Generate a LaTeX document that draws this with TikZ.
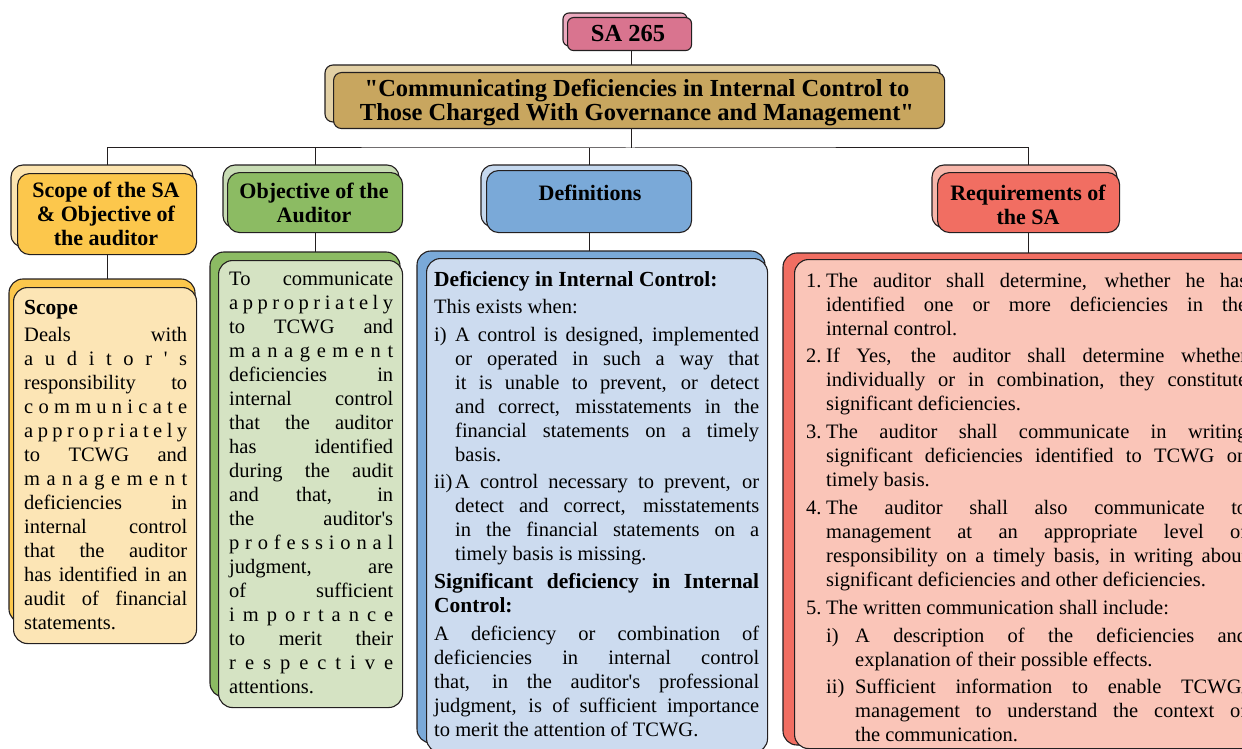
\documentclass[tikz,border=0pt]{standalone}
\usepackage{fontspec}
\setmainfont{Liberation Serif}[Ligatures=TeXOff]

\pgfdeclarelayer{links}
\pgfdeclarelayer{under}
\pgfsetlayers{links,under,main}

% palette
\definecolor{ink}{HTML}{231F20}
\definecolor{saF}{HTML}{D9748F}\definecolor{saB}{HTML}{EBA9BE}
\definecolor{tiF}{HTML}{C8A65F}\definecolor{tiB}{HTML}{E2D0A5}
\definecolor{yeF}{HTML}{FCC74C}\definecolor{yeL}{HTML}{FCE5B5}\definecolor{yeB}{HTML}{FCE4AF}
\definecolor{grF}{HTML}{8CBB63}\definecolor{grL}{HTML}{D5E3C3}\definecolor{grB}{HTML}{C8DCB4}
\definecolor{blF}{HTML}{7AA9D8}\definecolor{blL}{HTML}{CCDBEF}\definecolor{blB}{HTML}{C5D8EE}
\definecolor{reF}{HTML}{F16E62}\definecolor{reL}{HTML}{FAC5B8}\definecolor{reB}{HTML}{F7B6AA}

% line builders for the text panels
\newcommand\fl{\rule{0pt}{17pt}}
\newcommand\gap[1]{\vskip#1pt}
\newcommand\sfree{\spaceskip=0pt\xspaceskip=0pt\relax}
\newcommand\jline[1]{\hbox to\hsize{\sfree#1}}
\newcommand\lline[1]{\hbox{\sfree#1}}
\newcommand\ijline[3]{\hbox to\hsize{\sfree\hbox to#1{#2\hfil}#3}}
\newcommand\illine[3]{\hbox{\sfree\hbox to#1{#2\hfil}#3}}
\newcommand\cjline[2]{\hbox to\hsize{\sfree\hskip#1\relax#2}}
\newcommand\clline[2]{\hbox{\sfree\hskip#1\relax#2}}
\newcommand\hd[1]{{\bfseries\fontsize{21.5}{24}\selectfont#1}}
\ExplSyntaxOn
\NewDocumentCommand\spline{m}{\hbox to\hsize{\tl_map_inline:nn{#1}{##1\hfil}\unskip}}
\ExplSyntaxOff

\begin{document}
\begin{tikzpicture}[x=1pt,y=-1pt,
  card/.style={draw=ink, line width=1.1pt, inner sep=0pt, anchor=north west},
  backcard/.style={draw=ink, line width=1.1pt},
  conn/.style={draw=ink, line width=1pt},
  headtext/.style={align=center, inner sep=0pt, font=\bfseries\fontsize{22}{24}\selectfont},
  bodytext/.style={anchor=north west, inner sep=0pt, text width=#1, font=\fontsize{20.5}{24}\selectfont}]
\useasboundingbox (0,0) rectangle (1242,749);

\begin{scope}
\clip (0,0) rectangle (1242,749);
% front cards
\node[card, fill=saF, rounded corners=6pt, minimum width=124pt, minimum height=33pt] (sa) at (567,17) {};
\node[card, fill=tiF, rounded corners=8pt, minimum width=611pt, minimum height=56pt] (title) at (333,72) {};
\node[card, fill=yeF, rounded corners=12pt, minimum width=179pt, minimum height=81pt] (scopeh) at (17,173) {};
\node[card, fill=grF, rounded corners=12pt, minimum width=175pt, minimum height=60pt] (objh) at (227,172) {};
\node[card, fill=blF, rounded corners=12pt, minimum width=205pt, minimum height=62pt] (defh) at (486,170) {};
\node[card, fill=reF, rounded corners=12pt, minimum width=182pt, minimum height=60pt] (reqh) at (937,172) {};
\node[card, fill=yeL, rounded corners=14pt, minimum width=183pt, minimum height=356pt] (scopeb) at (13,287) {};
\node[card, fill=grL, rounded corners=14pt, minimum width=184pt, minimum height=447pt] (objb) at (218,260) {};
\node[card, fill=blL, rounded corners=14pt, minimum width=341pt, minimum height=494pt] (defb) at (426,258) {};
\node[card, fill=reL, rounded corners=14pt, minimum width=468pt, minimum height=489pt] (reqb) at (794,259) {};

% headings
\node[headtext, font=\bfseries\fontsize{24.5}{24}\selectfont] (saT) at (628,34) {SA 265};
\node[headtext, font=\bfseries\fontsize{24.5}{24}\selectfont] (titleT) at (637,103)
  {"Communicating Deficiencies in Internal Control to\\Those Charged With Governance and Management"};
\node[headtext] (scopehT) at (106,214) {Scope of the SA\\\& Objective of\\the auditor};
\node[headtext] (objhT) at (314,203) {Objective of the\\Auditor};
\node[headtext] (defhT) at (590,193) {Definitions};
\node[headtext] (reqhT) at (1028,205) {Requirements of\\the SA};

% panel texts
\node[bodytext=163pt] (scopeT) at (24,297) {%
\lline{\fl\hd{Scope}}\gap{3.7}
\jline{Deals with}
\spline{auditor's}
\jline{responsibility to}
\spline{communicate}
\spline{appropriately}
\jline{to TCWG and}
\spline{management}
\jline{deficiencies in}
\jline{internal control}
\jline{that the auditor}
\jline{has identified in an}
\jline{audit of financial}
\lline{statements.}};

\node[bodytext=164pt] (objT) at (229,268) {%
\jline{\fl To communicate}
\spline{appropriately}
\jline{to TCWG and}
\spline{management}
\jline{deficiencies in}
\jline{internal control}
\jline{that the auditor}
\jline{has identified}
\jline{during the audit}
\jline{and that, in}
\jline{the auditor's}
\spline{professional}
\jline{judgment, are}
\jline{of sufficient}
\spline{importance}
\jline{to merit their}
\spline{respective}
\lline{attentions.}};

\node[bodytext=325pt] (defT) at (434,269) {%
\lline{\fl\hd{Deficiency in Internal Control:}}
\gap{3}\lline{This exists when:}
\gap{4}\ijline{21pt}{i)}{A control is designed, implemented}
\cjline{21pt}{or operated in such a way that}
\cjline{21pt}{it is unable to prevent, or detect}
\cjline{21pt}{and correct, misstatements in the}
\cjline{21pt}{financial statements on a timely}
\clline{21pt}{basis.}
\gap{3}\ijline{21pt}{ii)}{A control necessary to prevent, or}
\cjline{21pt}{detect and correct, misstatements}
\cjline{21pt}{in the financial statements on a}
\clline{21pt}{timely basis is missing.}
\gap{4}\jline{\hd{Significant deficiency in Internal}}
\lline{\hd{Control:}}
\gap{4}\jline{A deficiency or combination of}
\jline{deficiencies in internal control}
\jline{that, in the auditor's professional}
\jline{judgment, is of sufficient importance}
\lline{to merit the attention of TCWG.}};

\node[bodytext=441pt] (reqT) at (806,270) {%
\ijline{20pt}{\fl 1.}{The auditor shall determine, whether he has}
\cjline{20pt}{identified one or more deficiencies in the}
\clline{20pt}{internal control.}
\gap{3}\ijline{20pt}{2.}{If Yes, the auditor shall determine whether}
\cjline{20pt}{individually or in combination, they constitute}
\clline{20pt}{significant deficiencies.}
\gap{4}\ijline{20pt}{3.}{The auditor shall communicate in writing}
\cjline{20pt}{significant deficiencies identified to TCWG on}
\clline{20pt}{timely basis.}
\gap{4}\ijline{20pt}{4.}{The auditor shall also communicate to}
\cjline{20pt}{management at an appropriate level of}
\cjline{20pt}{responsibility on a timely basis, in writing about}
\clline{20pt}{significant deficiencies and other deficiencies.}
\gap{4}\illine{20pt}{5.}{The written communication shall include:}
\gap{4}\hbox to\hsize{\sfree\hskip20pt\hbox to29pt{i)\hfil}A description of the deficiencies and}
\clline{49pt}{explanation of their possible effects.}
\gap{3}\hbox to\hsize{\sfree\hskip20pt\hbox to29pt{ii)\hfil}Sufficient information to enable TCWG/}
\cjline{49pt}{management to understand the context of}
\clline{49pt}{the communication.}};
\end{scope}

% stacked sheets behind each card
\begin{pgfonlayer}{under}
\clip (0,0) rectangle (1242,749);
\path[backcard, fill=saB, rounded corners=6pt] (563,13) rectangle (687,46);
\path[backcard, fill=tiB, rounded corners=8pt] (325,65) rectangle (940,122);
\path[backcard, fill=yeB, rounded corners=12pt] (11,165) rectangle (193,247);
\path[backcard, fill=grB, rounded corners=12pt] (223,165) rectangle (399,228);
\path[backcard, fill=blB, rounded corners=12pt] (481,165) rectangle (689,227);
\path[backcard, fill=reB, rounded corners=12pt] (932,165) rectangle (1117,228);
\path[backcard, fill=yeF, rounded corners=14pt] (9,279) rectangle (195,623);
\path[backcard, fill=grF, rounded corners=14pt] (210,252) rectangle (400,697);
\path[backcard, fill=blF, rounded corners=14pt] (417,251) rectangle (765,743);
\path[backcard, fill=reF, rounded corners=14pt] (783,253) rectangle (1260,745);
\end{pgfonlayer}

% connectors
\begin{pgfonlayer}{links}
\coordinate (bus) at (631,148);
\draw[conn] (sa.south -| bus) -- (bus);
\draw[conn] (scopeh) |- (bus) -| (reqh);
\draw[conn] (objh) -- (objh |- bus);
\draw[conn] (defh) -- (defh |- bus);
\draw[conn] (scopeh) -- (scopeh |- scopeb.north);
\draw[conn] (objh) -- (objh |- objb.north);
\draw[conn] (defh) -- (defh |- defb.north);
\draw[conn] (reqh) -- (reqh |- reqb.north);
\end{pgfonlayer}
\end{tikzpicture}
\end{document}
